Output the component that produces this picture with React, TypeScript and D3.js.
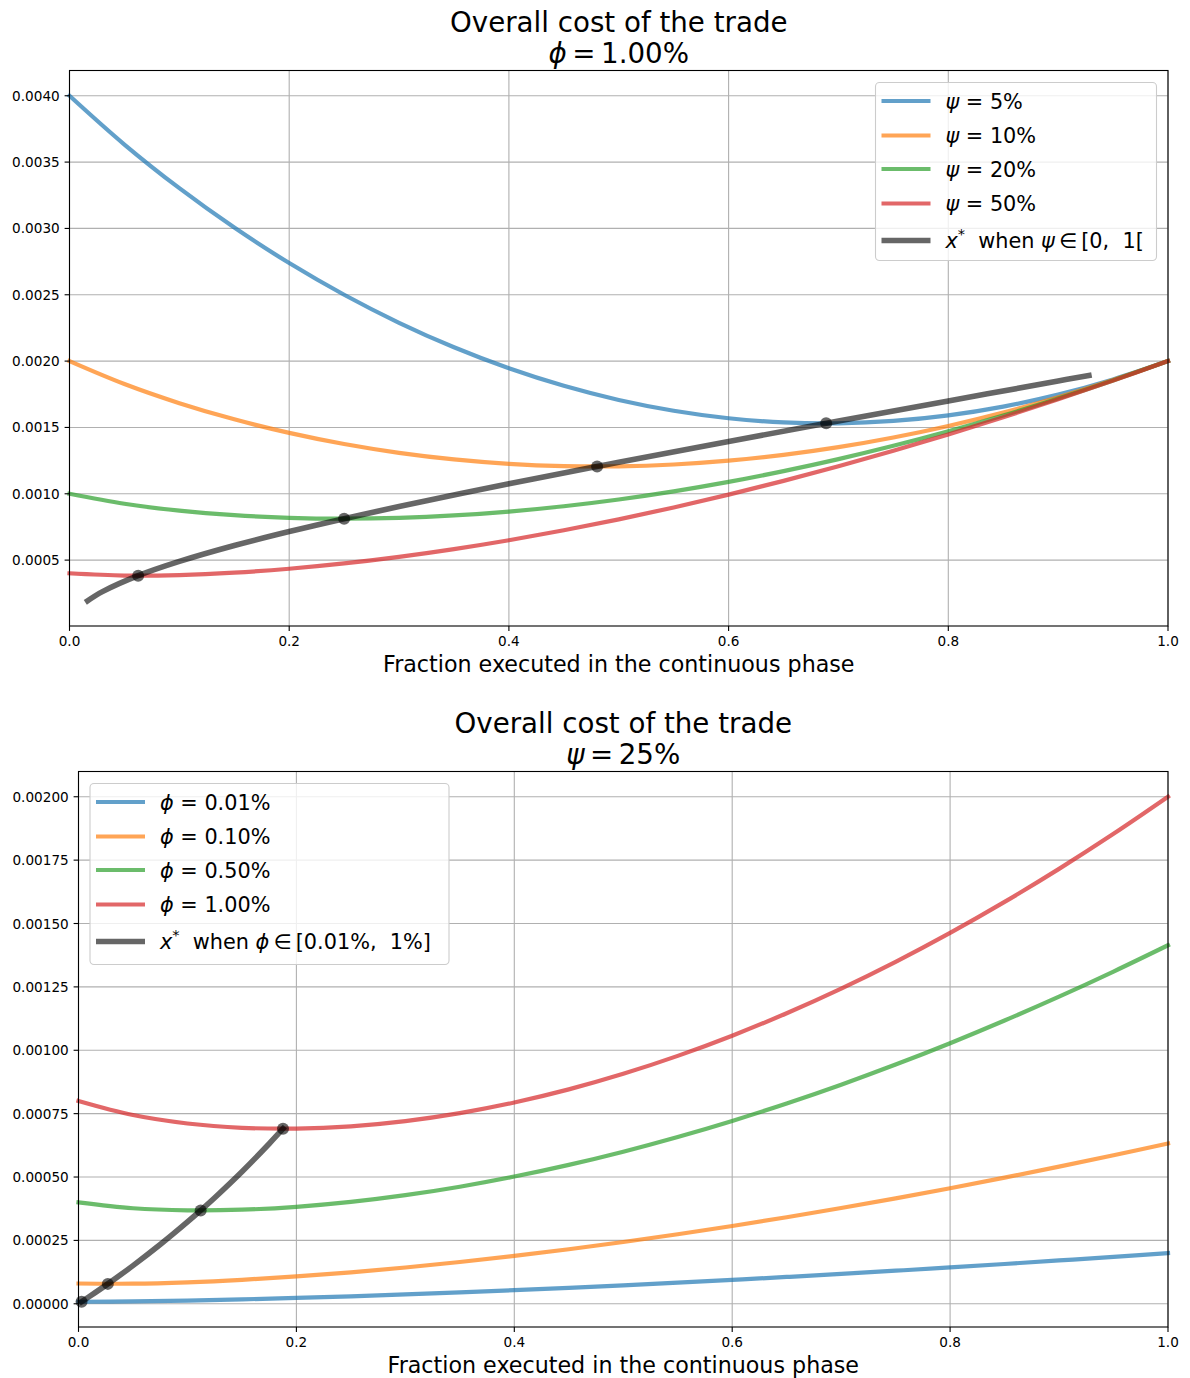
import React from 'react';
import * as d3 from 'd3';

// ---------- DATA ----------
const xs = [0, 0.05, 0.1, 0.15, 0.2, 0.25, 0.3, 0.35, 0.4, 0.45, 0.5, 0.55, 0.6, 0.65, 0.7, 0.75, 0.8, 0.85, 0.9, 0.95, 1.0];

// Top panel: phi = 1.00%, various psi
const psiLabels = ['5%', '10%', '20%', '50%'];
const costPsi5 = [0.004, 0.0036324, 0.0033032, 0.0030062, 0.0027389, 0.0025, 0.0022886, 0.0021041, 0.001946, 0.0018137, 0.0017071, 0.0016258, 0.0015695, 0.0015381, 0.0015313, 0.001549, 0.0015911, 0.0016573, 0.0017476, 0.0018619, 0.002];
const costPsi10 = [0.002, 0.0018274, 0.0016832, 0.0015612, 0.0014589, 0.001375, 0.0013086, 0.0012591, 0.001226, 0.0012087, 0.0012071, 0.0012208, 0.0012495, 0.0012931, 0.0013513, 0.001424, 0.0015111, 0.0016123, 0.0017276, 0.0018569, 0.002];
const costPsi20 = [0.001, 0.0009249, 0.0008732, 0.0008387, 0.0008189, 0.0008125, 0.0008186, 0.0008366, 0.000866, 0.0009062, 0.0009571, 0.0010183, 0.0010895, 0.0011706, 0.0012613, 0.0013615, 0.0014711, 0.0015898, 0.0017176, 0.0018544, 0.002];
const costPsi50 = [0.0004, 0.0003834, 0.0003872, 0.0004052, 0.0004349, 0.000475, 0.0005246, 0.0005831, 0.00065, 0.0007247, 0.0008071, 0.0008968, 0.0009935, 0.0010971, 0.0012073, 0.001324, 0.0014471, 0.0015763, 0.0017116, 0.0018529, 0.002];
const topStarX = [0.0165, 0.03, 0.0625, 0.1, 0.15, 0.2, 0.25, 0.3, 0.4, 0.48, 0.5, 0.6, 0.7, 0.8, 0.9, 0.928];
const topStarY = [0.0001937, 0.0002624, 0.0003828, 0.0004901, 0.00061, 0.0007155, 0.0008125, 0.0009037, 0.0010752, 0.0012055, 0.0012374, 0.0013943, 0.0015478, 0.0016994, 0.0018499, 0.001892];
const topDotX = [0.0625, 0.25, 0.4803, 0.6888];
const topDotY = [0.000383, 0.0008125, 0.001206, 0.001531];

// Bottom panel: psi = 25%, various phi
const phiLabels = ['0.01%', '0.10%', '0.50%', '1.00%'];
const costPhi001 = [0.000008, 0.0000094, 0.0000128, 0.0000174, 0.000023, 0.0000295, 0.0000368, 0.0000448, 0.0000535, 0.0000628, 0.0000727, 0.0000832, 0.0000943, 0.0001058, 0.0001178, 0.0001304, 0.0001434, 0.0001569, 0.0001709, 0.0001852, 0.0002];
const costPhi010 = [0.00008, 0.0000793, 0.0000848, 0.0000945, 0.0001078, 0.0001241, 0.0001431, 0.0001648, 0.0001888, 0.0002151, 0.0002436, 0.0002742, 0.0003067, 0.0003412, 0.0003776, 0.0004158, 0.0004558, 0.0004974, 0.0005408, 0.0005858, 0.0006325];
const costPhi050 = [0.0004, 0.0003768, 0.0003687, 0.0003712, 0.0003825, 0.0004018, 0.0004284, 0.0004618, 0.0005018, 0.0005479, 0.0006, 0.0006579, 0.0007213, 0.0007901, 0.0008643, 0.0009436, 0.0010279, 0.0011173, 0.0012115, 0.0013105, 0.0014142];
const costPhi100 = [0.0008, 0.0007444, 0.0007112, 0.0006942, 0.0006909, 0.0007, 0.0007206, 0.0007521, 0.000794, 0.0008457, 0.0009071, 0.0009778, 0.0010575, 0.0011461, 0.0012433, 0.001349, 0.0014631, 0.0015853, 0.0017156, 0.0018539, 0.002];
const botStarX = [0.002828, 0.01, 0.026932, 0.05, 0.075, 0.1, 0.11214, 0.125, 0.15, 0.175, 0.1877];
const botStarY = [0.000008, 0.0000285, 0.0000785, 0.0001505, 0.0002337, 0.0003229, 0.0003685, 0.0004185, 0.0005211, 0.0006313, 0.0006905];
const botDotX = [0.002828, 0.026932, 0.11214, 0.1877];
const botDotY = [0.000008, 0.0000785, 0.000368, 0.00069];

// Ticks
const xTicks = [0, 0.2, 0.4, 0.6, 0.8, 1.0];
const topYTicks = [0.0005, 0.001, 0.0015, 0.002, 0.0025, 0.003, 0.0035, 0.004];
const botYTicks = [0, 0.00025, 0.0005, 0.00075, 0.001, 0.00125, 0.0015, 0.00175, 0.002];

const titleText = 'Overall cost of the trade';
const xLabelText = 'Fraction executed in the continuous phase';

// ---------- STYLE ----------
const COLORS = ['#1f77b4', '#ff7f0e', '#2ca02c', '#d62728'];
const FONT = '"DejaVu Sans", Verdana, sans-serif';

type Part = { t: string; it?: boolean; sup?: boolean };

function MathText({ x, y, parts, size, anchor = 'start' }: { x: number; y: number; parts: Part[]; size: number; anchor?: string }) {
  const nodes: any[] = [];
  let raised = false;
  parts.forEach((p, i) => {
    let dy = 0;
    if (p.sup && !raised) { dy = -size * 0.42; raised = true; }
    else if (!p.sup && raised) { dy = size * 0.42; raised = false; }
    nodes.push(
      <tspan key={i} dy={dy || undefined} fontStyle={p.it ? 'italic' : 'normal'} fontSize={p.sup ? size * 0.7 : size}>{p.t}</tspan>
    );
  });
  return (
    <text x={x} y={y} fontFamily={FONT} fontSize={size} textAnchor={anchor as any} fill="#000" style={{ whiteSpace: 'pre' }}>
      {nodes}
    </text>
  );
}

type Series = { y: number[]; color: string };

function Panel(props: {
  x0: number; x1: number; y0: number; y1: number;
  series: Series[];
  starX: number[]; starY: number[]; dotX: number[]; dotY: number[];
  yTicks: number[]; yDecimals: number;
  title2: Part[];
  legendLabels: Part[][];
  legendBox: { left: boolean; w: number; h: number };
}) {
  const { x0, x1, y0, y1, series, starX, starY, dotX, dotY, yTicks, yDecimals, title2, legendLabels, legendBox } = props;
  const allY = [...series.flatMap((s) => s.y), ...starY];
  const [mn, mx] = d3.extent(allY) as [number, number];
  const pad = (mx - mn) * 0.05;
  const x = d3.scaleLinear().domain([0, 1]).range([x0, x1]);
  const y = d3.scaleLinear().domain([mn - pad, mx + pad]).range([y1, y0]);
  const line = d3.line<[number, number]>().x((d) => x(d[0])).y((d) => y(d[1])).curve(d3.curveCatmullRom.alpha(0.5));
  const tickFont = 13.6;
  const lw = 4.2;
  const starW = 5.6;
  const legFont = 20.8;

  const lx = legendBox.left ? x0 + 11.5 : x1 - 11.5 - legendBox.w;
  const ly = y0 + 12;
  const rowY = [18.5, 53, 86.5, 121, 158];
  const legendColors = [...COLORS, '#000'];

  return (
    <g>
      {/* grid */}
      {xTicks.map((t) => (
        <line key={'gx' + t} x1={x(t)} x2={x(t)} y1={y0} y2={y1} stroke="#b0b0b0" strokeWidth={1.1} />
      ))}
      {yTicks.map((t) => (
        <line key={'gy' + t} x1={x0} x2={x1} y1={y(t)} y2={y(t)} stroke="#b0b0b0" strokeWidth={1.1} />
      ))}
      {/* series */}
      {series.map((s, i) => (
        <path key={'s' + i} d={line(xs.map((v, j) => [v, s.y[j]]) as [number, number][]) || ''} fill="none" stroke={s.color} strokeOpacity={0.7} strokeWidth={lw} strokeLinecap="square" strokeLinejoin="round" />
      ))}
      <path d={line(starX.map((v, j) => [v, starY[j]]) as [number, number][]) || ''} fill="none" stroke="#000" strokeOpacity={0.6} strokeWidth={starW} strokeLinecap="square" strokeLinejoin="round" />
      {dotX.map((v, j) => (
        <circle key={'d' + j} cx={x(v)} cy={y(dotY[j])} r={6} fill="#000" fillOpacity={0.6} />
      ))}
      {/* spines */}
      <rect x={x0} y={y0} width={x1 - x0} height={y1 - y0} fill="none" stroke="#000" strokeWidth={1.1} />
      {/* x ticks */}
      {xTicks.map((t) => (
        <g key={'xt' + t}>
          <line x1={x(t)} x2={x(t)} y1={y1} y2={y1 + 4.9} stroke="#000" strokeWidth={1.1} />
          <text x={x(t)} y={y1 + 20} fontFamily={FONT} fontSize={tickFont} textAnchor="middle">{t.toFixed(1)}</text>
        </g>
      ))}
      {/* y ticks */}
      {yTicks.map((t) => (
        <g key={'yt' + t}>
          <line x1={x0 - 4.9} x2={x0} y1={y(t)} y2={y(t)} stroke="#000" strokeWidth={1.1} />
          <text x={x0 - 9.8} y={y(t) + 5} fontFamily={FONT} fontSize={tickFont} textAnchor="end">{t.toFixed(yDecimals)}</text>
        </g>
      ))}
      {/* labels & titles */}
      <text x={(x0 + x1) / 2} y={y1 + 45.5} fontFamily={FONT} fontSize={22.2} textAnchor="middle">{xLabelText}</text>
      <text x={(x0 + x1) / 2} y={y0 - 38.5} fontFamily={FONT} fontSize={27.7} textAnchor="middle">{titleText}</text>
      <MathText x={(x0 + x1) / 2} y={y0 - 7.5} parts={title2} size={27.7} anchor="middle" />
      {/* legend */}
      <rect x={lx} y={ly} width={legendBox.w} height={legendBox.h} rx={4} ry={4} fill="#fff" fillOpacity={0.8} stroke="#cccccc" strokeWidth={1.1} />
      {legendLabels.map((parts, i) => (
        <g key={'lg' + i}>
          <line x1={lx + 6} x2={lx + 55} y1={ly + rowY[i]} y2={ly + rowY[i]} stroke={legendColors[i]} strokeOpacity={i === 4 ? 0.6 : 0.7} strokeWidth={i === 4 ? starW : lw} />
          <MathText x={lx + 70} y={ly + rowY[i] + 7.5} parts={parts} size={legFont} />
        </g>
      ))}
    </g>
  );
}

export default function App() {
  const topSeries: Series[] = [costPsi5, costPsi10, costPsi20, costPsi50].map((y, i) => ({ y, color: COLORS[i] }));
  const botSeries: Series[] = [costPhi001, costPhi010, costPhi050, costPhi100].map((y, i) => ({ y, color: COLORS[i] }));
  const topLegend: Part[][] = [
    ...psiLabels.map((l) => [{ t: 'ψ', it: true }, { t: ' = ' + l }] as Part[]),
    [{ t: 'x', it: true }, { t: '*', sup: true }, { t: '  when ' }, { t: 'ψ', it: true }, { t: '\u2009∈\u2009[0,  1[' }],
  ];
  const botLegend: Part[][] = [
    ...phiLabels.map((l) => [{ t: 'ϕ', it: true }, { t: ' = ' + l }] as Part[]),
    [{ t: 'x', it: true }, { t: '*', sup: true }, { t: '  when ' }, { t: 'ϕ', it: true }, { t: '\u2009∈\u2009[0.01%,  1%]' }],
  ];
  return (
    <svg width={1190} height={1378} style={{ position: 'absolute', left: 0, top: 0, background: '#fff' }}>
      <rect width={1190} height={1378} fill="#fff" />
      <Panel
        x0={69.5} x1={1168} y0={70.5} y1={626}
        series={topSeries}
        starX={topStarX} starY={topStarY} dotX={topDotX} dotY={topDotY}
        yTicks={topYTicks} yDecimals={4}
        title2={[{ t: 'ϕ', it: true }, { t: '\u2009=\u20091.00%' }]}
        legendLabels={topLegend}
        legendBox={{ left: false, w: 281, h: 178 }}
      />
      <Panel
        x0={78.5} x1={1168} y0={771.5} y1={1327}
        series={botSeries}
        starX={botStarX} starY={botStarY} dotX={botDotX} dotY={botDotY}
        yTicks={botYTicks} yDecimals={5}
        title2={[{ t: 'ψ', it: true }, { t: '\u2009=\u200925%' }]}
        legendLabels={botLegend}
        legendBox={{ left: true, w: 359, h: 181 }}
      />
    </svg>
  );
}
